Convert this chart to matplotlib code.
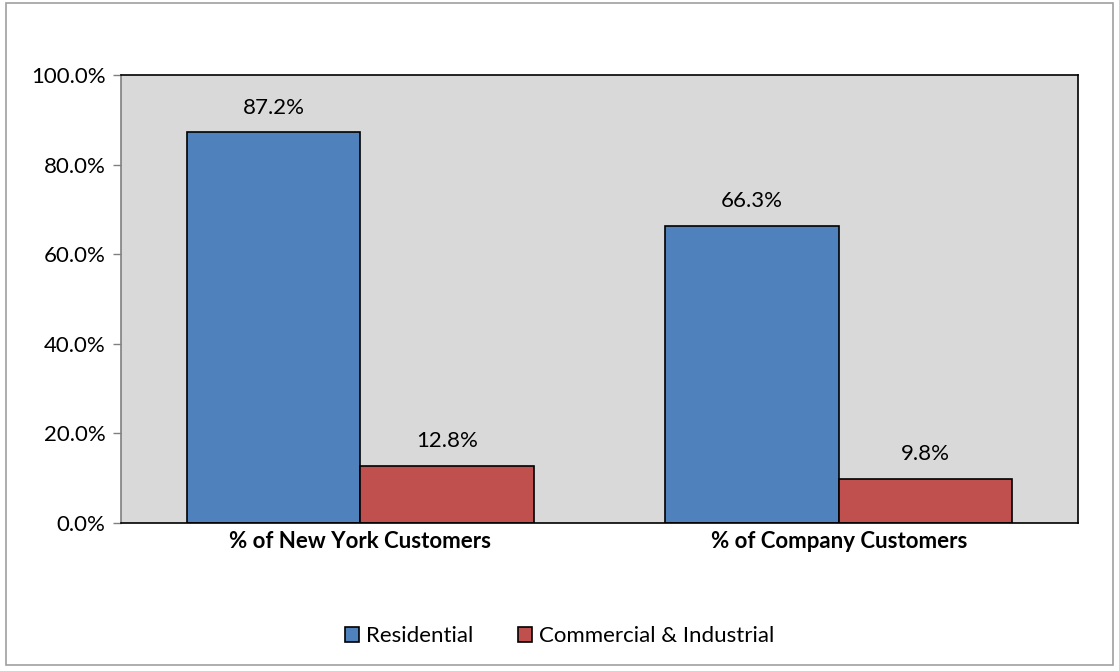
import matplotlib.pyplot as plt
import numpy as np
from matplotlib.patches import Rectangle
from matplotlib.ticker import PercentFormatter

plt.rcParams['font.family'] = ['Lato', 'DejaVu Sans']

# customer share by class
categories = ['% of New York Customers', '% of Company Customers']
residential = [87.2, 66.3]
commercial = [12.8, 9.8]
series_names = ['Residential', 'Commercial & Industrial']
colors = ['#4F81BD', '#C0504D']

fig = plt.figure(figsize=(11.19, 6.71), dpi=100)
ax = fig.add_axes([0.1081, 0.2206, 0.8553, 0.6676])
ax.set_facecolor('#D9D9D9')

x = np.arange(len(categories))
w = 0.363
b1 = ax.bar(x - w / 2, residential, w, color=colors[0], edgecolor='black',
            linewidth=1.2, label=series_names[0])
b2 = ax.bar(x + w / 2, commercial, w, color=colors[1], edgecolor='black',
            linewidth=1.2, label=series_names[1])

for bars, vals in ((b1, residential), (b2, commercial)):
    for bar, v in zip(bars, vals):
        ax.text(bar.get_x() + bar.get_width() / 2, v + 3.3, f'{v:.1f}%',
                ha='center', va='bottom', fontsize=16)

ax.set_xlim(-0.5, 1.5)
ax.set_ylim(0, 100)
ax.set_yticks(np.arange(0, 101, 20))
ax.yaxis.set_major_formatter(PercentFormatter(decimals=1))
ax.set_xticks(x)
ax.set_xticklabels(categories, fontsize=16, fontweight='bold')
ax.tick_params(axis='x', length=0, pad=6)
ax.tick_params(axis='y', length=6, width=1, color='#808080', labelsize=16, pad=5)

for s in ('top', 'right', 'bottom'):
    ax.spines[s].set_color('black')
    ax.spines[s].set_linewidth(1.2)
ax.spines['left'].set_color('#808080')
ax.spines['left'].set_linewidth(1.2)

fig.legend(loc='center', bbox_to_anchor=(0.5, 0.052), ncol=2, frameon=False,
           fontsize=16, handlelength=0.65, handleheight=0.65, handletextpad=0.3,
           columnspacing=2.0)

# outer chart border
fig.patches.append(Rectangle((6 / 1119, 6 / 671), 1107 / 1119, 662 / 671,
                             transform=fig.transFigure, fill=False,
                             edgecolor='#A0A0A0', linewidth=1.2))

fig.savefig('out.png', dpi=100)
